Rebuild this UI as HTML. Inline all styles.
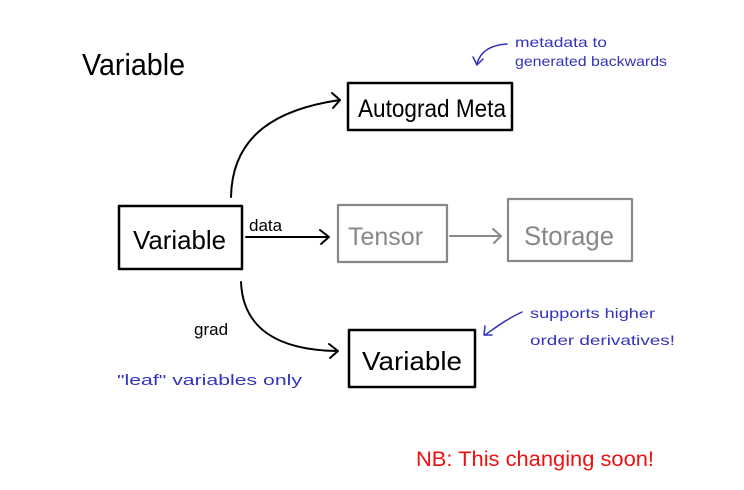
<!DOCTYPE html>
<html><head><meta charset="utf-8"><style>
html,body{margin:0;padding:0;background:#fff}
svg{display:block}
text{font-family:"Liberation Sans",sans-serif}
</style></head><body>
<svg width="744" height="490" viewBox="0 0 744 490" xmlns="http://www.w3.org/2000/svg">
<g fill="none" stroke-linecap="round" stroke-linejoin="round">
<rect x="348" y="83" width="164" height="47" stroke="#000" stroke-width="2.5"/>
<rect x="119" y="206" width="123" height="63" stroke="#000" stroke-width="2.5"/>
<rect x="338" y="205" width="109" height="57" stroke="#888" stroke-width="2.2"/>
<rect x="508" y="199" width="124" height="62" stroke="#888" stroke-width="2.2"/>
<rect x="349" y="330" width="126" height="57" stroke="#000" stroke-width="2.5"/>
<path d="M231 197 C232 140 270 110 340 100" stroke="#000" stroke-width="2"/>
<path d="M332 93 L340 100 L333 108" stroke="#000" stroke-width="2"/>
<path d="M246 237 L328 237" stroke="#000" stroke-width="2"/>
<path d="M320 230 L329 237 L321 244" stroke="#000" stroke-width="2"/>
<path d="M450 236 L500 236" stroke="#888" stroke-width="2"/>
<path d="M493 229 L501 236 L494 243" stroke="#888" stroke-width="2"/>
<path d="M241 282 C243 330 280 350 337 351" stroke="#000" stroke-width="2"/>
<path d="M329 344 L338 351 L330 358" stroke="#000" stroke-width="2"/>
<path d="M507 44 C490 45 480 52 477 64" stroke="#3333bb" stroke-width="1.5"/>
<path d="M473 57 L477 65 L483 59" stroke="#3333bb" stroke-width="1.5"/>
<path d="M522 312 C505 320 495 328 485 335" stroke="#3333bb" stroke-width="1.5"/>
<path d="M485 326 L484 335 L492 335" stroke="#3333bb" stroke-width="1.5"/>
</g>
<text x="82" y="75" font-size="31" fill="#000" textLength="103" lengthAdjust="spacingAndGlyphs">Variable</text>
<text x="358" y="117" font-size="25" fill="#000" textLength="148" lengthAdjust="spacingAndGlyphs">Autograd Meta</text>
<text x="133" y="249" font-size="26" fill="#000" textLength="93" lengthAdjust="spacingAndGlyphs">Variable</text>
<text x="249" y="231" font-size="17" fill="#000">data</text>
<text x="348" y="245" font-size="25" fill="#888">Tensor</text>
<text x="524" y="245" font-size="27" fill="#888" textLength="90" lengthAdjust="spacingAndGlyphs">Storage</text>
<text x="194" y="335" font-size="17" fill="#000">grad</text>
<text x="362" y="370" font-size="26" fill="#000" textLength="100" lengthAdjust="spacingAndGlyphs">Variable</text>
<text x="515" y="47" font-size="14" fill="#3333bb" textLength="92" lengthAdjust="spacingAndGlyphs">metadata to</text>
<text x="515" y="66" font-size="14" fill="#3333bb" textLength="152" lengthAdjust="spacingAndGlyphs">generated backwards</text>
<text x="530" y="318" font-size="14" fill="#3333bb" textLength="125" lengthAdjust="spacingAndGlyphs">supports higher</text>
<text x="530" y="345" font-size="14" fill="#3333bb" textLength="145" lengthAdjust="spacingAndGlyphs">order derivatives!</text>
<text x="117" y="385" font-size="15" fill="#3333bb" textLength="185" lengthAdjust="spacingAndGlyphs">"leaf" variables only</text>
<text x="416" y="466" font-size="21" fill="#ee1111" textLength="238" lengthAdjust="spacingAndGlyphs">NB: This changing soon!</text>
</svg>
</body></html>
